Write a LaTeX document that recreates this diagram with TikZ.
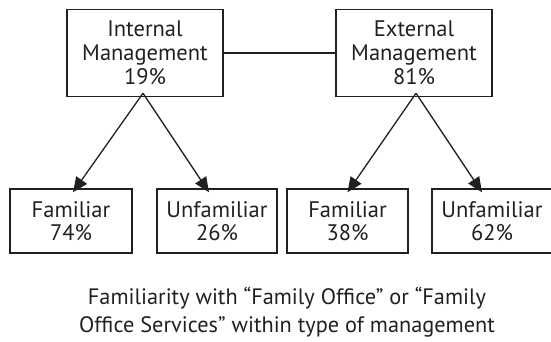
\documentclass[tikz,border=0pt]{standalone}
\usepackage{fontspec}
\setmainfont{PT Sans}
\usetikzlibrary{arrows.meta}
\definecolor{ink}{HTML}{231F20}
\tikzset{
  box/.style={draw=ink, line width=1.4pt, align=center, inner sep=0pt, text=ink,
    font=\fontsize{22.5}{24}\selectfont},
  topbox/.style={box, minimum width=156pt, minimum height=87pt},
  leafbox/.style={box, minimum width=121pt, minimum height=64pt,
    font=\fontsize{22.5}{22.5}\selectfont},
  link/.style={draw=ink, line width=1.3pt},
  arr/.style={link, -{Triangle[length=15pt,width=13pt]}},
  caption/.style={align=center, text=ink, font=\fontsize{22.3}{28}\selectfont}
}
\begin{document}
\begin{tikzpicture}[x=1pt, y=-1pt]
  \useasboundingbox (0,0) rectangle (551,341);
  % management type
  \node[topbox] (int) at (145,53) {Internal\\Management\\19\%};
  \node[topbox] (ext) at (414,53) {External\\Management\\81\%};
  \draw[link] (int.east) -- (ext.west);
  % familiarity within each type
  \node[leafbox, minimum width=122pt] (f1) at (71,221) {Familiar\\74\%};
  \node[leafbox, minimum width=120pt] (u1) at (217,221) {Unfamiliar\\26\%};
  \node[leafbox] (f2) at (347.5,221) {Familiar\\38\%};
  \node[leafbox, minimum width=120pt] (u2) at (492,221) {Unfamiliar\\62\%};
  % arrows from each management box
  \coordinate (ia) at ([xshift=-2pt,yshift=4pt]int.south);
  \coordinate (ea) at ([xshift=2pt,yshift=4pt]ext.south);
  \draw[arr] (ia) -- ([xshift=2pt,yshift=-4pt]f1.north);
  \draw[arr] (ia) -- ([xshift=-8pt,yshift=-4pt]u1.north);
  \draw[arr] (ea) -- ([xshift=0pt,yshift=-4pt]f2.north);
  \draw[arr] (ea) -- ([xshift=-10pt,yshift=-4pt]u2.north);
  % caption
  \node[caption] (cap) at (287,312) {Familiarity with “Family Office” or “Family\\Office Services” within type of management};
\end{tikzpicture}
\end{document}
